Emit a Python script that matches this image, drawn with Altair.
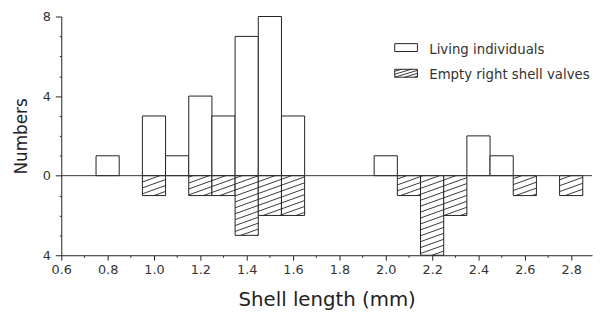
import altair as alt
import pandas as pd

# ---- data ----
living_len = [0.8, 1.0, 1.1, 1.2, 1.3, 1.4, 1.5, 1.6, 2.0, 2.4, 2.5]
living_n = [1, 3, 1, 4, 3, 7, 8, 3, 1, 2, 1]
empty_len = [1.0, 1.2, 1.3, 1.4, 1.5, 1.6, 2.1, 2.2, 2.3, 2.6, 2.8]
empty_n = [1, 1, 1, 3, 2, 2, 1, 4, 2, 1, 1]
x_ticks = [0.6, 0.7, 0.8, 0.9, 1.0, 1.1, 1.2, 1.3, 1.4, 1.5, 1.6, 1.7,
           1.8, 1.9, 2.0, 2.1, 2.2, 2.3, 2.4, 2.5, 2.6, 2.7, 2.8]
y_ticks = [-4, -3, -2, -1, 0, 1, 2, 3, 4, 5, 6, 7, 8]
legend_labels = ["Living individuals", "Empty right shell valves"]

# ---- style / layout constants ----
BIN = 0.1
X_DOMAIN = [0.6, 2.89]
Y_DOMAIN = [-4, 8]
W, H = 538, 242
INK = "#222222"
TXT = "#333333"
FONT = "DejaVu Sans"

px_per_x = W / (X_DOMAIN[1] - X_DOMAIN[0])
px_per_y = H / (Y_DOMAIN[1] - Y_DOMAIN[0])
HATCH_PX_SLOPE = 0.36     # rise / run in pixels
HATCH_PX_GAP = 6.0        # vertical gap in pixels
slope = HATCH_PX_SLOPE * px_per_x / px_per_y
gap = HATCH_PX_GAP / px_per_y


def hatch_segments(x0, x1, ylo, yhi, s, g, xref, yref):
    """diagonal segments y = c + s*(x - xref), clipped to the rectangle."""
    segs = []
    kmin = int((ylo - yref - s * (x1 - xref)) // g) - 1
    kmax = int((yhi - yref - s * (x0 - xref)) // g) + 1
    for k in range(kmin, kmax + 1):
        c = yref + k * g
        xa = max(x0, xref + (ylo - c) / s)
        xb = min(x1, xref + (yhi - c) / s)
        if xb - xa > 1e-9:
            segs.append((xa, c + s * (xa - xref), xb, c + s * (xb - xref)))
    return segs


living = pd.DataFrame({
    "x0": [v - BIN / 2 for v in living_len],
    "x1": [v + BIN / 2 for v in living_len],
    "n": living_n,
})
empty = pd.DataFrame({
    "x0": [v - BIN / 2 for v in empty_len],
    "x1": [v + BIN / 2 for v in empty_len],
    "n": [-v for v in empty_n],
})
rows = []
for a, b, n in zip(empty["x0"], empty["x1"], empty["n"]):
    for xa, ya, xb, yb in hatch_segments(a, b, n, 0, slope, gap, X_DOMAIN[0], 0):
        rows.append({"xa": xa, "ya": ya, "xb": xb, "yb": yb})
hatch = pd.DataFrame(rows)

x_axis = alt.Axis(
    title="Shell length (mm)", values=x_ticks,
    labelExpr="abs(round(datum.value*10)) % 2 == 0 ? format(datum.value, '.1f') : ''",
    tickSize={"condition": {"test": "abs(round(datum.value*10)) % 2 == 0", "value": 5}, "value": 2},
    grid=False, domainColor=INK, tickColor=INK, labelColor=TXT,
    labelFont=FONT, labelFontSize=13, labelPadding=3,
    titleFont=FONT, titleFontSize=20, titleFontWeight="normal", titleColor=INK,
    titlePadding=14, labelFlush=False,
)
y_axis = alt.Axis(
    title="Numbers", values=y_ticks,
    labelExpr="datum.value % 4 == 0 ? '' + abs(datum.value) : ''",
    tickSize={"condition": {"test": "datum.value % 4 == 0", "value": 6}, "value": 2},
    grid=False, domainColor=INK, tickColor=INK, labelColor=TXT,
    labelFont=FONT, labelFontSize=13, labelPadding=5,
    titleFont=FONT, titleFontSize=17, titleFontWeight="normal", titleColor=INK,
    titlePadding=12, labelFlush=False,
)
xs = alt.Scale(domain=X_DOMAIN, nice=False, zero=False)
ys = alt.Scale(domain=Y_DOMAIN, nice=False, zero=False)

bars_living = alt.Chart(living).mark_rect(fill="white", stroke=INK, strokeWidth=1).encode(
    x=alt.X("x0:Q", scale=xs, axis=x_axis), x2="x1:Q",
    y=alt.Y("n:Q", scale=ys, axis=y_axis), y2=alt.datum(0),
)
bars_empty = alt.Chart(empty).mark_rect(fill="white", stroke=INK, strokeWidth=1).encode(
    x=alt.X("x0:Q", scale=xs, axis=x_axis), x2="x1:Q",
    y=alt.Y("n:Q", scale=ys, axis=y_axis), y2=alt.datum(0),
)
hatch_layer = alt.Chart(hatch).mark_rule(color=INK, strokeWidth=0.9).encode(
    x=alt.X("xa:Q", scale=xs, axis=x_axis), x2="xb:Q",
    y=alt.Y("ya:Q", scale=ys, axis=y_axis), y2="yb:Q",
)
dummy = pd.DataFrame({"d": [0]})
zero_line = alt.Chart(dummy).mark_rule(color="#333333", strokeWidth=1).encode(
    y=alt.datum(0, scale=ys, axis=y_axis),
)

# ---- manual legend (pixel positions inside the plot area) ----
LX0, LX1 = 338, 361
legend_layers = []
box_rows = [(27.5, 35.5), (53.5, 61.5)]
text_y = [33.5, 59.5]
for i, (t, b) in enumerate(box_rows):
    legend_layers.append(
        alt.Chart(dummy).mark_rect(fill="white", stroke=INK, strokeWidth=1).encode(
            x=alt.value(LX0), x2=alt.value(LX1), y=alt.value(t), y2=alt.value(b)
        )
    )
    legend_layers.append(
        alt.Chart(dummy).mark_text(
            align="left", baseline="middle", font=FONT, fontSize=13.5, color=TXT
        ).encode(x=alt.value(373), y=alt.value(text_y[i]),
                 text=alt.value(legend_labels[i]))
    )
t, b = box_rows[1]
for xa, ya, xb, yb in hatch_segments(LX0, LX1, -b, -t, 0.3, 3.0, LX0, -b):
    legend_layers.append(
        alt.Chart(dummy).mark_rule(color=INK, strokeWidth=0.9).encode(
            x=alt.value(xa), x2=alt.value(xb), y=alt.value(-ya), y2=alt.value(-yb)
        )
    )

chart = alt.layer(
    bars_living, bars_empty, hatch_layer, zero_line, *legend_layers
).properties(
    width=W, height=H,
    autosize=alt.AutoSizeParams(type="none"),
    padding={"left": 54, "top": 6.5, "right": 3, "bottom": 63},
    background="white",
).configure_view(stroke=None)

chart.save("out.html", embed_options={"renderer": "svg", "actions": False})
